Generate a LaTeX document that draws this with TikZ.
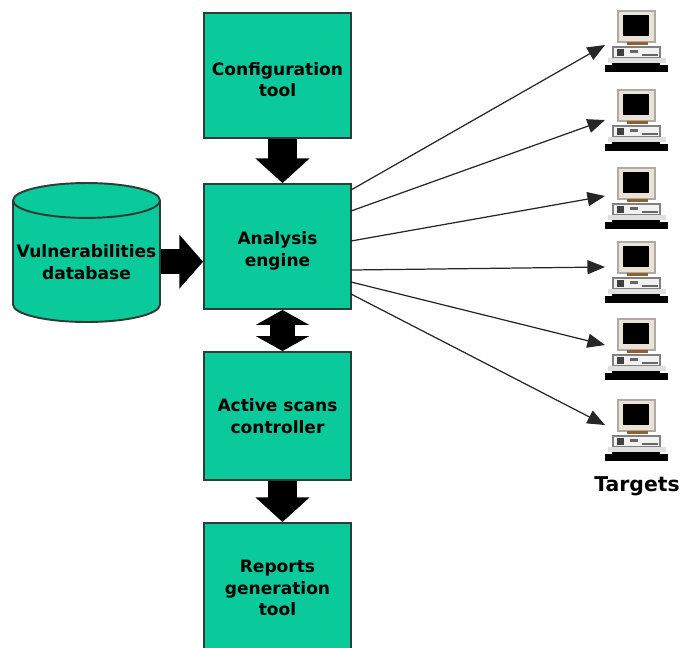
\documentclass[tikz,border=0pt]{standalone}
\usepackage{fontspec}
\setmainfont{DejaVu Sans}
\usepackage{xcolor}
\usepackage{tikz}
\usetikzlibrary{calc}
\usetikzlibrary{arrows.meta}
\usetikzlibrary{shapes.geometric}
\definecolor{boxgreen}{RGB}{10,201,155}
\definecolor{boxline}{RGB}{45,60,55}
\definecolor{cream}{RGB}{235,226,214}
\definecolor{caseline}{RGB}{175,170,165}
\newcommand{\dropline}{\rule{0pt}{12pt}}

\begin{document}
\begin{tikzpicture}[x=0.02cm,y=-0.02cm]
    \tikzstyle{box}=[draw=boxline,fill=boxgreen,line width=1.1pt,align=center,font=\bfseries\fontsize{9.7}{12.4}\selectfont,inner sep=0pt,minimum width=2.94cm]
    \tikzstyle{database}=[cylinder,shape border rotate=90,aspect=0.25,draw=boxline,fill=boxgreen,line width=1.1pt,cylinder uses custom fill,cylinder body fill=boxgreen,cylinder end fill=boxgreen,align=center,font=\bfseries\fontsize{9.7}{12.6}\selectfont,inner sep=0pt,minimum width=2.94cm,minimum height=2.78cm]
    \tikzstyle{fat}=[line width=17pt,-{Triangle[length=14pt,width=30pt]},color=black]
    \tikzstyle{fat thin}=[line width=14pt,-{Triangle[length=13.5pt,width=30pt]},color=black]
    \tikzstyle{fat both}=[line width=14pt,{Triangle[length=8.5pt,width=30pt]}-{Triangle[length=8.5pt,width=30pt]},color=black]
    \tikzstyle{ray}=[-{Triangle[length=10pt,width=8pt]},line width=0.7pt,color=black!85]

    \useasboundingbox (0,0) rectangle (682,647);
    \clip (0,0) rectangle (682,647);

    % Boxes
    \node[style=box,minimum height=2.5cm] (config) at (277.5,75.5) {\dropline Configuration\\tool};
    \node[style=box,minimum height=2.5cm] (analysis) at (277.5,246.5) {\dropline Analysis\\engine};
    \node[style=box,minimum height=2.56cm] (active) at (277.5,416) {Active scans\\controller};
    \node[style=box,minimum height=2.6cm,anchor=north] (reports) at (277.5,522) {Reports\\generation\\tool};
    \node[style=database,anchor=shape center] (vulndb) at (86.5,252.5) {Vulnerabilities\\database};

    % Thick arrows
    \draw[style=fat] ($(config.south)+(5,0)$) -- ($(analysis.north)+(5,0)$);
    \draw[style=fat thin] (vulndb.east) -- (analysis.west |- vulndb.east);
    \draw[style=fat both] ($(analysis.south)+(5,0)$) -- ($(active.north)+(5,0)$);
    \draw[style=fat] ($(active.south)+(5,0)$) -- ($(reports.north)+(5,0)$);

    % Targets
    \foreach \i/\ty/\sy/\ey in {1/11/190/45,2/90/211/120,3/168/241/196,4/242/270/267,5/319/282/345,6/400/294/425}
    {
        \coordinate (source_\i) at (351,\sy);
        \coordinate (target_\i) at (605,\ey);
        \draw[style=ray] (source_\i) -- (target_\i);
        \begin{scope}[shift={(0,\ty)}]
            \filldraw[draw=caseline,fill=cream,line width=0.7pt] (618,0) rectangle (655,31);
            \fill[black] (623,4) rectangle (649,25);
            \fill[brown!75!black] (627,31) rectangle (648,34);
            \filldraw[draw=gray,fill=white!90!gray,line width=0.7pt] (613,36) rectangle (660,47);
            \fill[black!75] (617,38) rectangle (624,45);
            \fill[black!60] (630,39) rectangle (638,42);
            \fill[black!60] (642,43) rectangle (658,45);
            \fill[white!75!gray] (608,47) rectangle (666,52);
            \fill[black] (612,52) rectangle (660,55);
            \fill[black] (605,54) rectangle (668,61);
        \end{scope}
    }
    \node[font=\bfseries\fontsize{11.6}{13}\selectfont] (targets) at (637,486) {Targets};

\end{tikzpicture}
\end{document}
